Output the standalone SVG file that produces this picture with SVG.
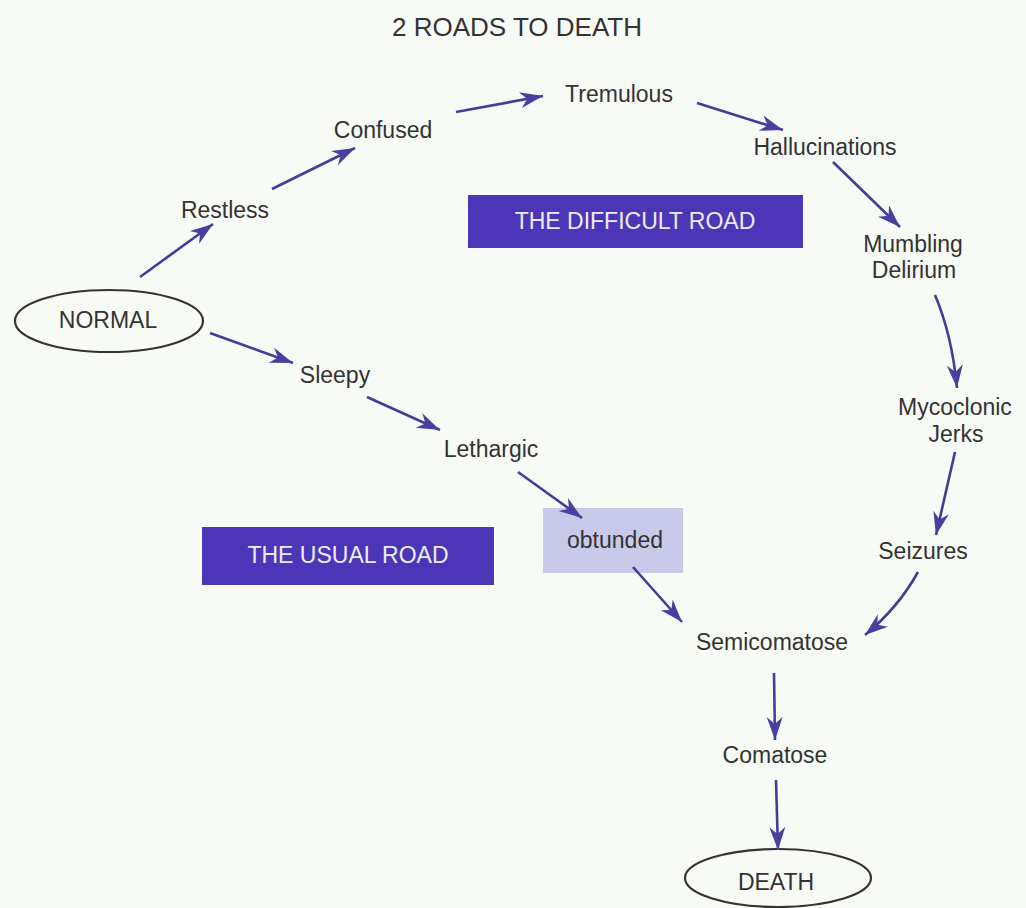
<svg xmlns="http://www.w3.org/2000/svg" width="1026" height="908" viewBox="0 0 1026 908">
<style>
.t{font-family:"Liberation Sans",Arial,sans-serif;font-size:23px;fill:#333;text-anchor:middle}
.title{font-size:26px}
.band{font-family:"Liberation Sans",Arial,sans-serif;font-size:23px;fill:#ececf6;text-anchor:middle}
.ell{fill:none;stroke:#333;stroke-width:2.2}
.road{fill:#4d35b8}
.c line,.c path{stroke:#463c98;stroke-width:2.6;fill:none;marker-end:url(#ah)}
</style>
<defs>
<marker id="ah" markerUnits="userSpaceOnUse" markerWidth="26" markerHeight="18" refX="23" refY="8" orient="auto">
<path d="M0,0 L23,8 L0,16 L7,8 z" fill="#4a3fa0"/>
</marker>
</defs>
<rect width="1026" height="908" fill="#f8faf6"/>
<text class="t title" x="517" y="36">2 ROADS TO DEATH</text>
<g id="difficult-road"><rect class="road" x="468" y="195" width="335" height="53"/><text class="band" x="635" y="229">THE DIFFICULT ROAD</text></g>
<g id="usual-road"><rect class="road" x="202" y="527" width="292" height="58"/><text class="band" x="348" y="563">THE USUAL ROAD</text></g>
<g id="normal"><ellipse class="ell" cx="109" cy="321" rx="94" ry="31"/><text class="t" x="108" y="328">NORMAL</text></g>
<g id="restless"><text class="t" x="225" y="218">Restless</text></g>
<g id="confused"><text class="t" x="383" y="138">Confused</text></g>
<g id="tremulous"><text class="t" x="619" y="102">Tremulous</text></g>
<g id="hallucinations"><text class="t" x="825" y="155">Hallucinations</text></g>
<g id="mumbling"><text class="t" x="913" y="252">Mumbling</text><text class="t" x="914" y="278">Delirium</text></g>
<g id="mycoclonic"><text class="t" x="955" y="415">Mycoclonic</text><text class="t" x="956" y="442">Jerks</text></g>
<g id="seizures"><text class="t" x="923" y="559">Seizures</text></g>
<g id="sleepy"><text class="t" x="335" y="383">Sleepy</text></g>
<g id="lethargic"><text class="t" x="491" y="457">Lethargic</text></g>
<g id="obtunded"><rect x="543" y="508" width="140" height="65" fill="#c9c9ea"/><text class="t" x="615" y="548">obtunded</text></g>
<g id="semicomatose"><text class="t" x="772" y="650">Semicomatose</text></g>
<g id="comatose"><text class="t" x="775" y="763">Comatose</text></g>
<g id="death"><ellipse class="ell" cx="778" cy="878" rx="93" ry="29"/><text class="t" x="776" y="890">DEATH</text></g>
<g class="c" id="connectors">
<line x1="140" y1="277" x2="213" y2="224"/>
<line x1="272" y1="189" x2="355" y2="148"/>
<line x1="456" y1="112" x2="543" y2="96"/>
<line x1="697" y1="103" x2="783" y2="130"/>
<line x1="833" y1="162" x2="900" y2="227"/>
<path d="M935,295 Q952,335 957,388"/>
<line x1="955" y1="452" x2="936" y2="535"/>
<path d="M918,572 Q898,608 865,635"/>
<line x1="210" y1="333" x2="293" y2="363"/>
<line x1="367" y1="397" x2="440" y2="430"/>
<line x1="518" y1="472" x2="582" y2="518"/>
<line x1="633" y1="567" x2="682" y2="622"/>
<line x1="774" y1="673" x2="775" y2="740"/>
<line x1="776" y1="780" x2="778" y2="850"/>
</g>
</svg>
